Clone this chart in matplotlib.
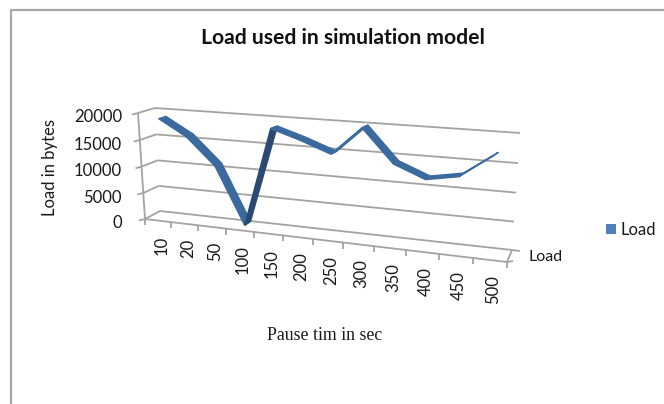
import numpy as np
import matplotlib
matplotlib.use("Agg")
import matplotlib.pyplot as plt

categories = ["10", "20", "50", "100", "150", "200", "250", "300", "350", "400", "450", "500"]
load = [18600, 15600, 10600, 0, 18300, 16600, 14600, 19600, 13800, 11600, 12600, 16600]
y_ticks = [0, 5000, 10000, 15000, 20000]
y_max = 20000

GREY = "#a3a3a3"
BLUE = "#3b6a9f"
DARK = "#2b4a72"
TEXT = "#1a1a1a"

# corners of the 3d box on the picture: bottom left, top left, top right, bottom right
FRONT = [(145, 219), (138, 113), (510, 140), (507, 262)]
BACK = [(160, 211), (155, 108), (520, 133), (512, 250)]


def homography(corners):
    src = [(0, 0), (0, 1), (1, 1), (1, 0)]
    rows, rhs = [], []
    for (u, v), (x, y) in zip(src, corners):
        rows.append([u, v, 1, 0, 0, 0, -u * x, -v * x])
        rows.append([0, 0, 0, u, v, 1, -u * y, -v * y])
        rhs += [x, y]
    return np.append(np.linalg.solve(np.array(rows, float), np.array(rhs, float)), 1).reshape(3, 3)


H_FRONT = homography(FRONT)
H_BACK = homography(BACK)


def project(pos, value, depth):
    # pos is in category slots, value in bytes, depth 0 front to 1 back
    p = np.array([pos / len(categories), value / y_max, 1.0])
    a = H_FRONT @ p
    b = H_BACK @ p
    return a[:2] / a[2] * (1 - depth) + b[:2] / b[2] * depth


def seg(ax, p, q, color=GREY, lw=1.3, z=1):
    ax.plot([p[0], q[0]], [p[1], q[1]], color=color, lw=lw, zorder=z, solid_capstyle="butt")


fig = plt.figure(figsize=(6.64, 4.04), dpi=100)
ax = fig.add_axes([0, 0, 1, 1])
ax.set_xlim(0, 664)
ax.set_ylim(404, 0)
ax.axis("off")

# chart frame
ax.plot([11, 11, 664], [404, 9.5, 9.5], color="#a8a8a8", lw=1.6, zorder=1)

# gridlines on the two walls
n = len(categories)
for v in y_ticks:
    seg(ax, project(0, v, 0), project(0, v, 1))
    seg(ax, project(0, v, 1), project(n, v, 1))
    tick = project(0, v, 0)
    seg(ax, tick, tick + np.array([-6, 1.5]))
    ax.text(122, tick[1] + 4.5, f"{v}", ha="right", va="center",
            fontsize=12, family="Lato", color=TEXT)

# left axis, floor edge and depth axis
seg(ax, project(0, 0, 0), project(0, y_max, 0))
seg(ax, project(0, 0, 0), project(n, 0, 0))
seg(ax, project(n, 0, 0), project(n, 0, 1))
right_back = project(n, 0, 1)
seg(ax, right_back, right_back + np.array([8, 1]))
right_front = project(n, 0, 0)
seg(ax, right_front, right_front + np.array([6, -1]))

for i in range(n + 1):
    p = project(i, 0, 0)
    seg(ax, p, p + np.array([0, 6]))

for i, name in enumerate(categories):
    p = project(i + 0.5, 0, 0)
    ax.text(p[0] + 3, p[1] + 15, name, rotation=90, ha="center", va="top",
            fontsize=12, family="Lato", color=TEXT)

# the line is a flat ribbon, a bit behind the middle of the depth axis
for i in range(n - 1):
    a0 = project(i + 0.42, load[i], 0.53)
    a1 = project(i + 0.42, load[i], 0.97)
    b0 = project(i + 1.42, load[i + 1], 0.53)
    b1 = project(i + 1.42, load[i + 1], 0.97)
    quad = np.array([a0, a1, b1, b0])
    rising = load[i + 1] - load[i] > 6000
    color = DARK if rising else BLUE
    ax.fill(quad[:, 0], quad[:, 1], color=color, lw=1.0, zorder=3)

ax.text(343, 38, "Load used in simulation model", ha="center", va="center",
        fontsize=15.2, fontweight="bold", family="Lato", color="#111111")
ax.text(50, 167, "Load in bytes", rotation=90, ha="center", va="center",
        fontsize=12, family="Lato", color=TEXT)
ax.text(325, 335, "Pause tim in sec", ha="center", va="center",
        fontsize=12.8, family="Liberation Serif", color=TEXT)
ax.text(529, 257, "Load", ha="left", va="center", fontsize=11.5, family="Lato", color=TEXT)

# legend
ax.fill([606, 616, 616, 606], [224, 224, 234, 234], color="#4f81bd", lw=0, zorder=3)
ax.text(620, 230, "Load", ha="left", va="center", fontsize=12, family="Lato", color=TEXT)

fig.savefig("out.png", dpi=100, facecolor="white")
